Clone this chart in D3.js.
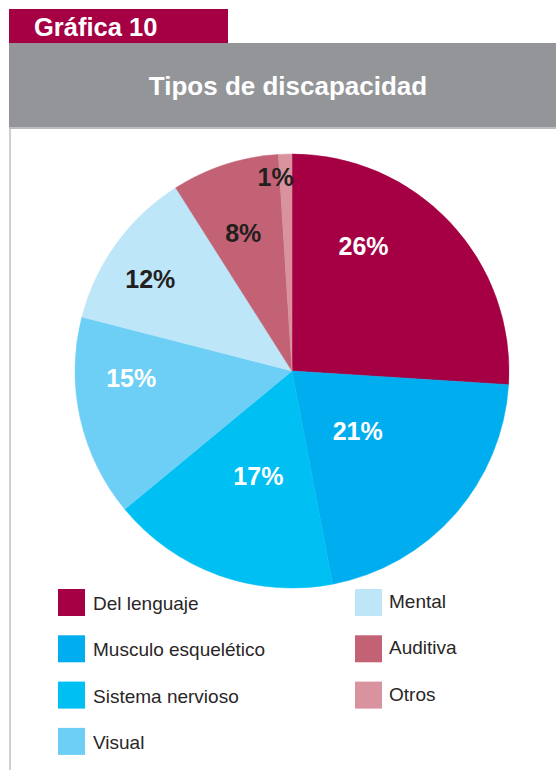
<!DOCTYPE html>
<html>
<head>
<meta charset="utf-8">
<script src="https://cdn.jsdelivr.net/npm/d3@7/dist/d3.min.js"></script>
<style>
  html, body { margin: 0; padding: 0; background: #fff; }
  svg { display: block; }
</style>
</head>
<body>
<svg id="chart" width="556" height="770"></svg>
<script>
// Tipos de discapacidad — porcentaje por tipo
const categories = ["Del lenguaje", "Musculo esquelético", "Sistema nervioso", "Visual", "Mental", "Auditiva", "Otros"];
const values = [26, 21, 17, 15, 12, 8, 1];
const sliceColors = ["#a50044", "#00aeef", "#00bff3", "#6dcff6", "#bde6f9", "#c26274", "#d8939e"];
const labelColors = ["#ffffff", "#ffffff", "#ffffff", "#ffffff", "#231f20", "#231f20", "#231f20"];

// Label placement: angular shift (degrees) from the slice middle and distance from centre
const labelShift = [-17, 1, -2, 10, -3, -1.5, -3];
const labelRadius = [144, 89, 110, 161, 169, 146, 195];

const svg = d3.select("#chart");
const W = 556;

// Header boxes
svg.append("rect").attr("x", 9).attr("y", 9).attr("width", 219).attr("height", 34).attr("fill", "#a50044");
svg.append("text").attr("x", 34).attr("y", 36)
  .attr("font-family", "Liberation Sans, Arial, sans-serif").attr("font-weight", "bold")
  .attr("font-size", 25.5).attr("fill", "#fff").text("Gráfica 10");

svg.append("rect").attr("x", 9).attr("y", 43).attr("width", W - 9).attr("height", 85).attr("fill", "#939598");
svg.append("rect").attr("x", 9).attr("y", 127).attr("width", W - 9).attr("height", 2).attr("fill", "#bcbdc0");
svg.append("text").attr("x", 288).attr("y", 95).attr("text-anchor", "middle")
  .attr("font-family", "Liberation Sans, Arial, sans-serif").attr("font-weight", "bold")
  .attr("font-size", 26).attr("fill", "#fff").text("Tipos de discapacidad");

// Left frame line
svg.append("rect").attr("x", 9).attr("y", 129).attr("width", 2).attr("height", 770 - 129).attr("fill", "#cfd0d2");

// Pie
const cx = 292, cy = 371, R = 217;
const pie = d3.pie().sort(null).value(d => d.value);
const data = categories.map((c, i) => ({ name: c, value: values[i], i }));
const arcs = pie(data);
const arc = d3.arc().innerRadius(0).outerRadius(R);

const g = svg.append("g").attr("transform", `translate(${cx},${cy})`);
g.selectAll("path.slice").data(arcs).enter().append("path")
  .attr("class", "slice")
  .attr("d", arc)
  .attr("fill", d => sliceColors[d.data.i])
  .attr("stroke", d => sliceColors[d.data.i])
  .attr("stroke-width", 0.5);

g.selectAll("text.pct").data(arcs).enter().append("text")
  .attr("class", "pct")
  .attr("transform", d => {
    const a = (d.startAngle + d.endAngle) / 2 + labelShift[d.data.i] * Math.PI / 180;
    const r = labelRadius[d.data.i];
    return `translate(${r * Math.sin(a)},${-r * Math.cos(a)})`;
  })
  .attr("text-anchor", "middle")
  .attr("dy", "0.36em")
  .attr("font-family", "Liberation Sans, Arial, sans-serif")
  .attr("font-weight", "bold")
  .attr("font-size", 25)
  .attr("fill", d => labelColors[d.data.i])
  .text(d => d.data.value + "%");

// Legend: two columns
const perCol = 4;
const legend = svg.append("g");
const items = legend.selectAll("g.item").data(data).enter().append("g")
  .attr("class", "item")
  .attr("transform", d => {
    const col = Math.floor(d.i / perCol), row = d.i % perCol;
    return `translate(${col ? 355 : 58},${589 + row * 46.3})`;
  });
items.append("rect").attr("width", 27).attr("height", 27).attr("fill", d => sliceColors[d.i]);
items.append("text")
  .attr("x", d => d.i >= perCol ? 34 : 35)
  .attr("y", d => d.i >= perCol ? 19 : 21)
  .attr("font-family", "Liberation Sans, Arial, sans-serif")
  .attr("font-size", 19)
  .attr("fill", "#2a2627")
  .text(d => d.name);
</script>
</body>
</html>
